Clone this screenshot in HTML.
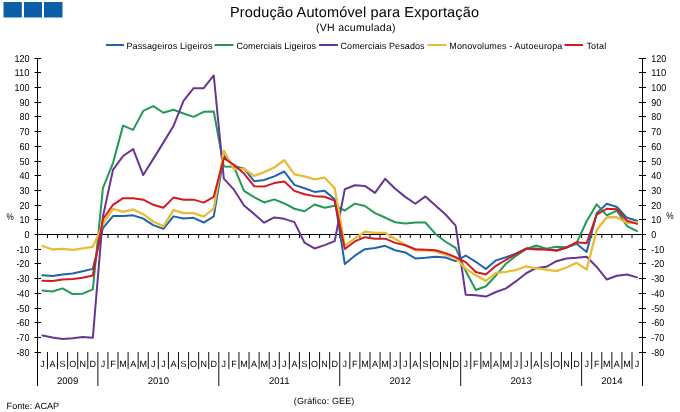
<!DOCTYPE html><html><head><meta charset="utf-8"><style>html,body{margin:0;padding:0;background:#fff;width:680px;height:412px;overflow:hidden}svg{display:block;will-change:transform}text{font-family:"Liberation Sans",sans-serif;fill:#000;text-rendering:geometricPrecision}</style></head><body>
<svg width="680" height="412" viewBox="0 0 680 412">
<rect width="680" height="412" fill="#fff"/>
<rect x="3.5" y="2" width="18.3" height="15.5" fill="#0b5fa8"/>
<rect x="24" y="2" width="18" height="15.5" fill="#0b5fa8"/>
<rect x="44" y="2" width="18.5" height="15.5" fill="#0b5fa8"/>
<text x="230" y="16.8" font-size="14.5" textLength="249" lengthAdjust="spacing">Produção Automóvel para Exportação</text>
<text x="316" y="30.8" font-size="10.5" textLength="79.5" lengthAdjust="spacing">(VH acumulada)</text>
<line x1="106" y1="45" x2="124" y2="45" stroke="#2064aa" stroke-width="2"/>
<text x="126.4" y="48.6" font-size="9" textLength="86" lengthAdjust="spacing">Passageiros Ligeiros</text>
<line x1="214.5" y1="45" x2="233.5" y2="45" stroke="#239857" stroke-width="2"/>
<text x="236.4" y="48.6" font-size="9" textLength="79.7" lengthAdjust="spacing">Comerciais Ligeiros</text>
<line x1="319" y1="45" x2="338" y2="45" stroke="#683592" stroke-width="2"/>
<text x="340.5" y="48.6" font-size="9" textLength="84.1" lengthAdjust="spacing">Comerciais Pesados</text>
<line x1="427.5" y1="45" x2="446.5" y2="45" stroke="#e8bb38" stroke-width="2"/>
<text x="449.3" y="48.6" font-size="9" textLength="113" lengthAdjust="spacing">Monovolumes - Autoeuropa</text>
<line x1="564.5" y1="45" x2="583" y2="45" stroke="#d21b21" stroke-width="2"/>
<text x="586.4" y="48.6" font-size="9" textLength="19.8" lengthAdjust="spacing">Total</text>
<line x1="37.5" y1="58.5" x2="37.5" y2="386" stroke="#000" stroke-width="1"/>
<line x1="642.5" y1="58.5" x2="642.5" y2="386" stroke="#000" stroke-width="1"/>
<line x1="34.5" y1="58.5" x2="41" y2="58.5" stroke="#000" stroke-width="1"/>
<line x1="639" y1="58.5" x2="646" y2="58.5" stroke="#000" stroke-width="1"/>
<text x="29.4" y="61.90" font-size="9.9" text-anchor="end" textLength="15.01" lengthAdjust="spacingAndGlyphs">120</text>
<text x="651.2" y="61.90" font-size="9.9" textLength="15.01" lengthAdjust="spacingAndGlyphs">120</text>
<line x1="34.5" y1="72.5" x2="41" y2="72.5" stroke="#000" stroke-width="1"/>
<line x1="639" y1="72.5" x2="646" y2="72.5" stroke="#000" stroke-width="1"/>
<text x="29.4" y="75.90" font-size="9.9" text-anchor="end" textLength="15.01" lengthAdjust="spacingAndGlyphs">110</text>
<text x="651.2" y="75.90" font-size="9.9" textLength="15.01" lengthAdjust="spacingAndGlyphs">110</text>
<line x1="34.5" y1="87.5" x2="41" y2="87.5" stroke="#000" stroke-width="1"/>
<line x1="639" y1="87.5" x2="646" y2="87.5" stroke="#000" stroke-width="1"/>
<text x="29.4" y="90.90" font-size="9.9" text-anchor="end" textLength="15.01" lengthAdjust="spacingAndGlyphs">100</text>
<text x="651.2" y="90.90" font-size="9.9" textLength="15.01" lengthAdjust="spacingAndGlyphs">100</text>
<line x1="34.5" y1="102.5" x2="41" y2="102.5" stroke="#000" stroke-width="1"/>
<line x1="639" y1="102.5" x2="646" y2="102.5" stroke="#000" stroke-width="1"/>
<text x="29.4" y="105.90" font-size="9.9" text-anchor="end" textLength="10.01" lengthAdjust="spacingAndGlyphs">90</text>
<text x="651.2" y="105.90" font-size="9.9" textLength="10.01" lengthAdjust="spacingAndGlyphs">90</text>
<line x1="34.5" y1="116.5" x2="41" y2="116.5" stroke="#000" stroke-width="1"/>
<line x1="639" y1="116.5" x2="646" y2="116.5" stroke="#000" stroke-width="1"/>
<text x="29.4" y="119.90" font-size="9.9" text-anchor="end" textLength="10.01" lengthAdjust="spacingAndGlyphs">80</text>
<text x="651.2" y="119.90" font-size="9.9" textLength="10.01" lengthAdjust="spacingAndGlyphs">80</text>
<line x1="34.5" y1="131.5" x2="41" y2="131.5" stroke="#000" stroke-width="1"/>
<line x1="639" y1="131.5" x2="646" y2="131.5" stroke="#000" stroke-width="1"/>
<text x="29.4" y="134.90" font-size="9.9" text-anchor="end" textLength="10.01" lengthAdjust="spacingAndGlyphs">70</text>
<text x="651.2" y="134.90" font-size="9.9" textLength="10.01" lengthAdjust="spacingAndGlyphs">70</text>
<line x1="34.5" y1="146.5" x2="41" y2="146.5" stroke="#000" stroke-width="1"/>
<line x1="639" y1="146.5" x2="646" y2="146.5" stroke="#000" stroke-width="1"/>
<text x="29.4" y="149.90" font-size="9.9" text-anchor="end" textLength="10.01" lengthAdjust="spacingAndGlyphs">60</text>
<text x="651.2" y="149.90" font-size="9.9" textLength="10.01" lengthAdjust="spacingAndGlyphs">60</text>
<line x1="34.5" y1="161.5" x2="41" y2="161.5" stroke="#000" stroke-width="1"/>
<line x1="639" y1="161.5" x2="646" y2="161.5" stroke="#000" stroke-width="1"/>
<text x="29.4" y="164.90" font-size="9.9" text-anchor="end" textLength="10.01" lengthAdjust="spacingAndGlyphs">50</text>
<text x="651.2" y="164.90" font-size="9.9" textLength="10.01" lengthAdjust="spacingAndGlyphs">50</text>
<line x1="34.5" y1="175.5" x2="41" y2="175.5" stroke="#000" stroke-width="1"/>
<line x1="639" y1="175.5" x2="646" y2="175.5" stroke="#000" stroke-width="1"/>
<text x="29.4" y="178.90" font-size="9.9" text-anchor="end" textLength="10.01" lengthAdjust="spacingAndGlyphs">40</text>
<text x="651.2" y="178.90" font-size="9.9" textLength="10.01" lengthAdjust="spacingAndGlyphs">40</text>
<line x1="34.5" y1="190.5" x2="41" y2="190.5" stroke="#000" stroke-width="1"/>
<line x1="639" y1="190.5" x2="646" y2="190.5" stroke="#000" stroke-width="1"/>
<text x="29.4" y="193.90" font-size="9.9" text-anchor="end" textLength="10.01" lengthAdjust="spacingAndGlyphs">30</text>
<text x="651.2" y="193.90" font-size="9.9" textLength="10.01" lengthAdjust="spacingAndGlyphs">30</text>
<line x1="34.5" y1="205.5" x2="41" y2="205.5" stroke="#000" stroke-width="1"/>
<line x1="639" y1="205.5" x2="646" y2="205.5" stroke="#000" stroke-width="1"/>
<text x="29.4" y="208.90" font-size="9.9" text-anchor="end" textLength="10.01" lengthAdjust="spacingAndGlyphs">20</text>
<text x="651.2" y="208.90" font-size="9.9" textLength="10.01" lengthAdjust="spacingAndGlyphs">20</text>
<line x1="34.5" y1="219.5" x2="41" y2="219.5" stroke="#000" stroke-width="1"/>
<line x1="639" y1="219.5" x2="646" y2="219.5" stroke="#000" stroke-width="1"/>
<text x="29.4" y="222.90" font-size="9.9" text-anchor="end" textLength="10.01" lengthAdjust="spacingAndGlyphs">10</text>
<text x="651.2" y="222.90" font-size="9.9" textLength="10.01" lengthAdjust="spacingAndGlyphs">10</text>
<line x1="34.5" y1="234.5" x2="41" y2="234.5" stroke="#000" stroke-width="1"/>
<line x1="639" y1="234.5" x2="646" y2="234.5" stroke="#000" stroke-width="1"/>
<text x="29.4" y="237.90" font-size="9.9" text-anchor="end" textLength="5.00" lengthAdjust="spacingAndGlyphs">0</text>
<text x="651.2" y="237.90" font-size="9.9" textLength="5.00" lengthAdjust="spacingAndGlyphs">0</text>
<line x1="34.5" y1="249.5" x2="41" y2="249.5" stroke="#000" stroke-width="1"/>
<line x1="639" y1="249.5" x2="646" y2="249.5" stroke="#000" stroke-width="1"/>
<text x="29.4" y="252.90" font-size="9.9" text-anchor="end" textLength="13.01" lengthAdjust="spacingAndGlyphs">-10</text>
<text x="651.2" y="252.90" font-size="9.9" textLength="13.01" lengthAdjust="spacingAndGlyphs">-10</text>
<line x1="34.5" y1="263.5" x2="41" y2="263.5" stroke="#000" stroke-width="1"/>
<line x1="639" y1="263.5" x2="646" y2="263.5" stroke="#000" stroke-width="1"/>
<text x="29.4" y="266.90" font-size="9.9" text-anchor="end" textLength="13.01" lengthAdjust="spacingAndGlyphs">-20</text>
<text x="651.2" y="266.90" font-size="9.9" textLength="13.01" lengthAdjust="spacingAndGlyphs">-20</text>
<line x1="34.5" y1="278.5" x2="41" y2="278.5" stroke="#000" stroke-width="1"/>
<line x1="639" y1="278.5" x2="646" y2="278.5" stroke="#000" stroke-width="1"/>
<text x="29.4" y="281.90" font-size="9.9" text-anchor="end" textLength="13.01" lengthAdjust="spacingAndGlyphs">-30</text>
<text x="651.2" y="281.90" font-size="9.9" textLength="13.01" lengthAdjust="spacingAndGlyphs">-30</text>
<line x1="34.5" y1="293.5" x2="41" y2="293.5" stroke="#000" stroke-width="1"/>
<line x1="639" y1="293.5" x2="646" y2="293.5" stroke="#000" stroke-width="1"/>
<text x="29.4" y="296.90" font-size="9.9" text-anchor="end" textLength="13.01" lengthAdjust="spacingAndGlyphs">-40</text>
<text x="651.2" y="296.90" font-size="9.9" textLength="13.01" lengthAdjust="spacingAndGlyphs">-40</text>
<line x1="34.5" y1="308.5" x2="41" y2="308.5" stroke="#000" stroke-width="1"/>
<line x1="639" y1="308.5" x2="646" y2="308.5" stroke="#000" stroke-width="1"/>
<text x="29.4" y="311.90" font-size="9.9" text-anchor="end" textLength="13.01" lengthAdjust="spacingAndGlyphs">-50</text>
<text x="651.2" y="311.90" font-size="9.9" textLength="13.01" lengthAdjust="spacingAndGlyphs">-50</text>
<line x1="34.5" y1="322.5" x2="41" y2="322.5" stroke="#000" stroke-width="1"/>
<line x1="639" y1="322.5" x2="646" y2="322.5" stroke="#000" stroke-width="1"/>
<text x="29.4" y="325.90" font-size="9.9" text-anchor="end" textLength="13.01" lengthAdjust="spacingAndGlyphs">-60</text>
<text x="651.2" y="325.90" font-size="9.9" textLength="13.01" lengthAdjust="spacingAndGlyphs">-60</text>
<line x1="34.5" y1="337.5" x2="41" y2="337.5" stroke="#000" stroke-width="1"/>
<line x1="639" y1="337.5" x2="646" y2="337.5" stroke="#000" stroke-width="1"/>
<text x="29.4" y="340.90" font-size="9.9" text-anchor="end" textLength="13.01" lengthAdjust="spacingAndGlyphs">-70</text>
<text x="651.2" y="340.90" font-size="9.9" textLength="13.01" lengthAdjust="spacingAndGlyphs">-70</text>
<line x1="34.5" y1="352.5" x2="41" y2="352.5" stroke="#000" stroke-width="1"/>
<line x1="639" y1="352.5" x2="646" y2="352.5" stroke="#000" stroke-width="1"/>
<text x="29.4" y="355.90" font-size="9.9" text-anchor="end" textLength="13.01" lengthAdjust="spacingAndGlyphs">-80</text>
<text x="651.2" y="355.90" font-size="9.9" textLength="13.01" lengthAdjust="spacingAndGlyphs">-80</text>
<text x="6.4" y="219.9" font-size="9.8" textLength="7.3" lengthAdjust="spacingAndGlyphs">%</text>
<text x="666.2" y="218.6" font-size="9.8" textLength="7.3" lengthAdjust="spacingAndGlyphs">%</text>
<line x1="37.5" y1="234.5" x2="642.5" y2="234.5" stroke="#000" stroke-width="1"/>
<line x1="47.48" y1="234.5" x2="47.48" y2="238" stroke="#000" stroke-width="1"/>
<line x1="57.56" y1="234.5" x2="57.56" y2="238" stroke="#000" stroke-width="1"/>
<line x1="67.63" y1="234.5" x2="67.63" y2="238" stroke="#000" stroke-width="1"/>
<line x1="77.71" y1="234.5" x2="77.71" y2="238" stroke="#000" stroke-width="1"/>
<line x1="87.79" y1="234.5" x2="87.79" y2="238" stroke="#000" stroke-width="1"/>
<line x1="97.87" y1="234.5" x2="97.87" y2="238" stroke="#000" stroke-width="1"/>
<line x1="107.95" y1="234.5" x2="107.95" y2="238" stroke="#000" stroke-width="1"/>
<line x1="118.02" y1="234.5" x2="118.02" y2="238" stroke="#000" stroke-width="1"/>
<line x1="128.10" y1="234.5" x2="128.10" y2="238" stroke="#000" stroke-width="1"/>
<line x1="138.18" y1="234.5" x2="138.18" y2="238" stroke="#000" stroke-width="1"/>
<line x1="148.26" y1="234.5" x2="148.26" y2="238" stroke="#000" stroke-width="1"/>
<line x1="158.34" y1="234.5" x2="158.34" y2="238" stroke="#000" stroke-width="1"/>
<line x1="168.41" y1="234.5" x2="168.41" y2="238" stroke="#000" stroke-width="1"/>
<line x1="178.49" y1="234.5" x2="178.49" y2="238" stroke="#000" stroke-width="1"/>
<line x1="188.57" y1="234.5" x2="188.57" y2="238" stroke="#000" stroke-width="1"/>
<line x1="198.65" y1="234.5" x2="198.65" y2="238" stroke="#000" stroke-width="1"/>
<line x1="208.73" y1="234.5" x2="208.73" y2="238" stroke="#000" stroke-width="1"/>
<line x1="218.80" y1="234.5" x2="218.80" y2="238" stroke="#000" stroke-width="1"/>
<line x1="228.88" y1="234.5" x2="228.88" y2="238" stroke="#000" stroke-width="1"/>
<line x1="238.96" y1="234.5" x2="238.96" y2="238" stroke="#000" stroke-width="1"/>
<line x1="249.04" y1="234.5" x2="249.04" y2="238" stroke="#000" stroke-width="1"/>
<line x1="259.12" y1="234.5" x2="259.12" y2="238" stroke="#000" stroke-width="1"/>
<line x1="269.19" y1="234.5" x2="269.19" y2="238" stroke="#000" stroke-width="1"/>
<line x1="279.27" y1="234.5" x2="279.27" y2="238" stroke="#000" stroke-width="1"/>
<line x1="289.35" y1="234.5" x2="289.35" y2="238" stroke="#000" stroke-width="1"/>
<line x1="299.43" y1="234.5" x2="299.43" y2="238" stroke="#000" stroke-width="1"/>
<line x1="309.51" y1="234.5" x2="309.51" y2="238" stroke="#000" stroke-width="1"/>
<line x1="319.58" y1="234.5" x2="319.58" y2="238" stroke="#000" stroke-width="1"/>
<line x1="329.66" y1="234.5" x2="329.66" y2="238" stroke="#000" stroke-width="1"/>
<line x1="339.74" y1="234.5" x2="339.74" y2="238" stroke="#000" stroke-width="1"/>
<line x1="349.82" y1="234.5" x2="349.82" y2="238" stroke="#000" stroke-width="1"/>
<line x1="359.90" y1="234.5" x2="359.90" y2="238" stroke="#000" stroke-width="1"/>
<line x1="369.97" y1="234.5" x2="369.97" y2="238" stroke="#000" stroke-width="1"/>
<line x1="380.05" y1="234.5" x2="380.05" y2="238" stroke="#000" stroke-width="1"/>
<line x1="390.13" y1="234.5" x2="390.13" y2="238" stroke="#000" stroke-width="1"/>
<line x1="400.21" y1="234.5" x2="400.21" y2="238" stroke="#000" stroke-width="1"/>
<line x1="410.29" y1="234.5" x2="410.29" y2="238" stroke="#000" stroke-width="1"/>
<line x1="420.36" y1="234.5" x2="420.36" y2="238" stroke="#000" stroke-width="1"/>
<line x1="430.44" y1="234.5" x2="430.44" y2="238" stroke="#000" stroke-width="1"/>
<line x1="440.52" y1="234.5" x2="440.52" y2="238" stroke="#000" stroke-width="1"/>
<line x1="450.60" y1="234.5" x2="450.60" y2="238" stroke="#000" stroke-width="1"/>
<line x1="460.68" y1="234.5" x2="460.68" y2="238" stroke="#000" stroke-width="1"/>
<line x1="470.75" y1="234.5" x2="470.75" y2="238" stroke="#000" stroke-width="1"/>
<line x1="480.83" y1="234.5" x2="480.83" y2="238" stroke="#000" stroke-width="1"/>
<line x1="490.91" y1="234.5" x2="490.91" y2="238" stroke="#000" stroke-width="1"/>
<line x1="500.99" y1="234.5" x2="500.99" y2="238" stroke="#000" stroke-width="1"/>
<line x1="511.07" y1="234.5" x2="511.07" y2="238" stroke="#000" stroke-width="1"/>
<line x1="521.14" y1="234.5" x2="521.14" y2="238" stroke="#000" stroke-width="1"/>
<line x1="531.22" y1="234.5" x2="531.22" y2="238" stroke="#000" stroke-width="1"/>
<line x1="541.30" y1="234.5" x2="541.30" y2="238" stroke="#000" stroke-width="1"/>
<line x1="551.38" y1="234.5" x2="551.38" y2="238" stroke="#000" stroke-width="1"/>
<line x1="561.46" y1="234.5" x2="561.46" y2="238" stroke="#000" stroke-width="1"/>
<line x1="571.53" y1="234.5" x2="571.53" y2="238" stroke="#000" stroke-width="1"/>
<line x1="581.61" y1="234.5" x2="581.61" y2="238" stroke="#000" stroke-width="1"/>
<line x1="591.69" y1="234.5" x2="591.69" y2="238" stroke="#000" stroke-width="1"/>
<line x1="601.77" y1="234.5" x2="601.77" y2="238" stroke="#000" stroke-width="1"/>
<line x1="611.85" y1="234.5" x2="611.85" y2="238" stroke="#000" stroke-width="1"/>
<line x1="621.92" y1="234.5" x2="621.92" y2="238" stroke="#000" stroke-width="1"/>
<line x1="632.00" y1="234.5" x2="632.00" y2="238" stroke="#000" stroke-width="1"/>
<line x1="47.48" y1="352.0" x2="47.48" y2="369" stroke="#111" stroke-width="1"/>
<line x1="57.56" y1="352.0" x2="57.56" y2="369" stroke="#111" stroke-width="1"/>
<line x1="67.63" y1="352.0" x2="67.63" y2="369" stroke="#111" stroke-width="1"/>
<line x1="77.71" y1="352.0" x2="77.71" y2="369" stroke="#111" stroke-width="1"/>
<line x1="87.79" y1="352.0" x2="87.79" y2="369" stroke="#111" stroke-width="1"/>
<line x1="97.87" y1="352.0" x2="97.87" y2="386" stroke="#111" stroke-width="1"/>
<line x1="107.95" y1="352.0" x2="107.95" y2="369" stroke="#111" stroke-width="1"/>
<line x1="118.02" y1="352.0" x2="118.02" y2="369" stroke="#111" stroke-width="1"/>
<line x1="128.10" y1="352.0" x2="128.10" y2="369" stroke="#111" stroke-width="1"/>
<line x1="138.18" y1="352.0" x2="138.18" y2="369" stroke="#111" stroke-width="1"/>
<line x1="148.26" y1="352.0" x2="148.26" y2="369" stroke="#111" stroke-width="1"/>
<line x1="158.34" y1="352.0" x2="158.34" y2="369" stroke="#111" stroke-width="1"/>
<line x1="168.41" y1="352.0" x2="168.41" y2="369" stroke="#111" stroke-width="1"/>
<line x1="178.49" y1="352.0" x2="178.49" y2="369" stroke="#111" stroke-width="1"/>
<line x1="188.57" y1="352.0" x2="188.57" y2="369" stroke="#111" stroke-width="1"/>
<line x1="198.65" y1="352.0" x2="198.65" y2="369" stroke="#111" stroke-width="1"/>
<line x1="208.73" y1="352.0" x2="208.73" y2="369" stroke="#111" stroke-width="1"/>
<line x1="218.80" y1="352.0" x2="218.80" y2="386" stroke="#111" stroke-width="1"/>
<line x1="228.88" y1="352.0" x2="228.88" y2="369" stroke="#111" stroke-width="1"/>
<line x1="238.96" y1="352.0" x2="238.96" y2="369" stroke="#111" stroke-width="1"/>
<line x1="249.04" y1="352.0" x2="249.04" y2="369" stroke="#111" stroke-width="1"/>
<line x1="259.12" y1="352.0" x2="259.12" y2="369" stroke="#111" stroke-width="1"/>
<line x1="269.19" y1="352.0" x2="269.19" y2="369" stroke="#111" stroke-width="1"/>
<line x1="279.27" y1="352.0" x2="279.27" y2="369" stroke="#111" stroke-width="1"/>
<line x1="289.35" y1="352.0" x2="289.35" y2="369" stroke="#111" stroke-width="1"/>
<line x1="299.43" y1="352.0" x2="299.43" y2="369" stroke="#111" stroke-width="1"/>
<line x1="309.51" y1="352.0" x2="309.51" y2="369" stroke="#111" stroke-width="1"/>
<line x1="319.58" y1="352.0" x2="319.58" y2="369" stroke="#111" stroke-width="1"/>
<line x1="329.66" y1="352.0" x2="329.66" y2="369" stroke="#111" stroke-width="1"/>
<line x1="339.74" y1="352.0" x2="339.74" y2="386" stroke="#111" stroke-width="1"/>
<line x1="349.82" y1="352.0" x2="349.82" y2="369" stroke="#111" stroke-width="1"/>
<line x1="359.90" y1="352.0" x2="359.90" y2="369" stroke="#111" stroke-width="1"/>
<line x1="369.97" y1="352.0" x2="369.97" y2="369" stroke="#111" stroke-width="1"/>
<line x1="380.05" y1="352.0" x2="380.05" y2="369" stroke="#111" stroke-width="1"/>
<line x1="390.13" y1="352.0" x2="390.13" y2="369" stroke="#111" stroke-width="1"/>
<line x1="400.21" y1="352.0" x2="400.21" y2="369" stroke="#111" stroke-width="1"/>
<line x1="410.29" y1="352.0" x2="410.29" y2="369" stroke="#111" stroke-width="1"/>
<line x1="420.36" y1="352.0" x2="420.36" y2="369" stroke="#111" stroke-width="1"/>
<line x1="430.44" y1="352.0" x2="430.44" y2="369" stroke="#111" stroke-width="1"/>
<line x1="440.52" y1="352.0" x2="440.52" y2="369" stroke="#111" stroke-width="1"/>
<line x1="450.60" y1="352.0" x2="450.60" y2="369" stroke="#111" stroke-width="1"/>
<line x1="460.68" y1="352.0" x2="460.68" y2="386" stroke="#111" stroke-width="1"/>
<line x1="470.75" y1="352.0" x2="470.75" y2="369" stroke="#111" stroke-width="1"/>
<line x1="480.83" y1="352.0" x2="480.83" y2="369" stroke="#111" stroke-width="1"/>
<line x1="490.91" y1="352.0" x2="490.91" y2="369" stroke="#111" stroke-width="1"/>
<line x1="500.99" y1="352.0" x2="500.99" y2="369" stroke="#111" stroke-width="1"/>
<line x1="511.07" y1="352.0" x2="511.07" y2="369" stroke="#111" stroke-width="1"/>
<line x1="521.14" y1="352.0" x2="521.14" y2="369" stroke="#111" stroke-width="1"/>
<line x1="531.22" y1="352.0" x2="531.22" y2="369" stroke="#111" stroke-width="1"/>
<line x1="541.30" y1="352.0" x2="541.30" y2="369" stroke="#111" stroke-width="1"/>
<line x1="551.38" y1="352.0" x2="551.38" y2="369" stroke="#111" stroke-width="1"/>
<line x1="561.46" y1="352.0" x2="561.46" y2="369" stroke="#111" stroke-width="1"/>
<line x1="571.53" y1="352.0" x2="571.53" y2="369" stroke="#111" stroke-width="1"/>
<line x1="581.61" y1="352.0" x2="581.61" y2="386" stroke="#111" stroke-width="1"/>
<line x1="591.69" y1="352.0" x2="591.69" y2="369" stroke="#111" stroke-width="1"/>
<line x1="601.77" y1="352.0" x2="601.77" y2="369" stroke="#111" stroke-width="1"/>
<line x1="611.85" y1="352.0" x2="611.85" y2="369" stroke="#111" stroke-width="1"/>
<line x1="621.92" y1="352.0" x2="621.92" y2="369" stroke="#111" stroke-width="1"/>
<line x1="632.00" y1="352.0" x2="632.00" y2="369" stroke="#111" stroke-width="1"/>
<text x="42.44" y="366.8" font-size="9" text-anchor="middle" fill="#222">J</text>
<text x="52.52" y="366.8" font-size="9" text-anchor="middle" fill="#222">A</text>
<text x="62.59" y="366.8" font-size="9" text-anchor="middle" fill="#222">S</text>
<text x="72.67" y="366.8" font-size="9" text-anchor="middle" fill="#222">O</text>
<text x="82.75" y="366.8" font-size="9" text-anchor="middle" fill="#222">N</text>
<text x="92.83" y="366.8" font-size="9" text-anchor="middle" fill="#222">D</text>
<text x="102.91" y="366.8" font-size="9" text-anchor="middle" fill="#222">J</text>
<text x="112.98" y="366.8" font-size="9" text-anchor="middle" fill="#222">F</text>
<text x="123.06" y="366.8" font-size="9" text-anchor="middle" fill="#222">M</text>
<text x="133.14" y="366.8" font-size="9" text-anchor="middle" fill="#222">A</text>
<text x="143.22" y="366.8" font-size="9" text-anchor="middle" fill="#222">M</text>
<text x="153.30" y="366.8" font-size="9" text-anchor="middle" fill="#222">J</text>
<text x="163.38" y="366.8" font-size="9" text-anchor="middle" fill="#222">J</text>
<text x="173.45" y="366.8" font-size="9" text-anchor="middle" fill="#222">A</text>
<text x="183.53" y="366.8" font-size="9" text-anchor="middle" fill="#222">S</text>
<text x="193.61" y="366.8" font-size="9" text-anchor="middle" fill="#222">O</text>
<text x="203.69" y="366.8" font-size="9" text-anchor="middle" fill="#222">N</text>
<text x="213.76" y="366.8" font-size="9" text-anchor="middle" fill="#222">D</text>
<text x="223.84" y="366.8" font-size="9" text-anchor="middle" fill="#222">J</text>
<text x="233.92" y="366.8" font-size="9" text-anchor="middle" fill="#222">F</text>
<text x="244.00" y="366.8" font-size="9" text-anchor="middle" fill="#222">M</text>
<text x="254.08" y="366.8" font-size="9" text-anchor="middle" fill="#222">A</text>
<text x="264.15" y="366.8" font-size="9" text-anchor="middle" fill="#222">M</text>
<text x="274.23" y="366.8" font-size="9" text-anchor="middle" fill="#222">J</text>
<text x="284.31" y="366.8" font-size="9" text-anchor="middle" fill="#222">J</text>
<text x="294.39" y="366.8" font-size="9" text-anchor="middle" fill="#222">A</text>
<text x="304.47" y="366.8" font-size="9" text-anchor="middle" fill="#222">S</text>
<text x="314.54" y="366.8" font-size="9" text-anchor="middle" fill="#222">O</text>
<text x="324.62" y="366.8" font-size="9" text-anchor="middle" fill="#222">N</text>
<text x="334.70" y="366.8" font-size="9" text-anchor="middle" fill="#222">D</text>
<text x="344.78" y="366.8" font-size="9" text-anchor="middle" fill="#222">J</text>
<text x="354.86" y="366.8" font-size="9" text-anchor="middle" fill="#222">F</text>
<text x="364.93" y="366.8" font-size="9" text-anchor="middle" fill="#222">M</text>
<text x="375.01" y="366.8" font-size="9" text-anchor="middle" fill="#222">A</text>
<text x="385.09" y="366.8" font-size="9" text-anchor="middle" fill="#222">M</text>
<text x="395.17" y="366.8" font-size="9" text-anchor="middle" fill="#222">J</text>
<text x="405.25" y="366.8" font-size="9" text-anchor="middle" fill="#222">J</text>
<text x="415.32" y="366.8" font-size="9" text-anchor="middle" fill="#222">A</text>
<text x="425.40" y="366.8" font-size="9" text-anchor="middle" fill="#222">S</text>
<text x="435.48" y="366.8" font-size="9" text-anchor="middle" fill="#222">O</text>
<text x="445.56" y="366.8" font-size="9" text-anchor="middle" fill="#222">N</text>
<text x="455.64" y="366.8" font-size="9" text-anchor="middle" fill="#222">D</text>
<text x="465.71" y="366.8" font-size="9" text-anchor="middle" fill="#222">J</text>
<text x="475.79" y="366.8" font-size="9" text-anchor="middle" fill="#222">F</text>
<text x="485.87" y="366.8" font-size="9" text-anchor="middle" fill="#222">M</text>
<text x="495.95" y="366.8" font-size="9" text-anchor="middle" fill="#222">A</text>
<text x="506.03" y="366.8" font-size="9" text-anchor="middle" fill="#222">M</text>
<text x="516.11" y="366.8" font-size="9" text-anchor="middle" fill="#222">J</text>
<text x="526.18" y="366.8" font-size="9" text-anchor="middle" fill="#222">J</text>
<text x="536.26" y="366.8" font-size="9" text-anchor="middle" fill="#222">A</text>
<text x="546.34" y="366.8" font-size="9" text-anchor="middle" fill="#222">S</text>
<text x="556.42" y="366.8" font-size="9" text-anchor="middle" fill="#222">O</text>
<text x="566.49" y="366.8" font-size="9" text-anchor="middle" fill="#222">N</text>
<text x="576.57" y="366.8" font-size="9" text-anchor="middle" fill="#222">D</text>
<text x="586.65" y="366.8" font-size="9" text-anchor="middle" fill="#222">J</text>
<text x="596.73" y="366.8" font-size="9" text-anchor="middle" fill="#222">F</text>
<text x="606.81" y="366.8" font-size="9" text-anchor="middle" fill="#222">M</text>
<text x="616.88" y="366.8" font-size="9" text-anchor="middle" fill="#222">A</text>
<text x="626.96" y="366.8" font-size="9" text-anchor="middle" fill="#222">M</text>
<text x="637.04" y="366.8" font-size="9" text-anchor="middle" fill="#222">J</text>
<text x="67.63" y="384" font-size="9.6" text-anchor="middle">2009</text>
<text x="158.34" y="384" font-size="9.6" text-anchor="middle">2010</text>
<text x="279.27" y="384" font-size="9.6" text-anchor="middle">2011</text>
<text x="400.21" y="384" font-size="9.6" text-anchor="middle">2012</text>
<text x="521.14" y="384" font-size="9.6" text-anchor="middle">2013</text>
<text x="611.85" y="384" font-size="9.6" text-anchor="middle">2014</text>
<text x="6.6" y="408.8" font-size="9" textLength="52.5" lengthAdjust="spacing">Fonte: ACAP</text>
<text x="293.8" y="403.8" font-size="9" textLength="60.5" lengthAdjust="spacing">(Gráfico: GEE)</text>
<polyline points="42.44,275.15 52.52,276.03 62.59,274.42 72.67,273.54 82.75,271.34 92.83,268.85 102.91,228.10 112.98,216.08 123.06,216.08 133.14,215.34 143.22,218.57 153.30,225.16 163.38,228.83 173.45,216.37 183.53,218.57 193.61,217.83 203.69,222.53 213.76,216.37 223.84,155.82 233.92,166.23 244.00,168.58 254.08,181.18 264.15,180.01 274.23,176.35 284.31,171.51 294.39,184.85 304.47,188.22 314.54,191.89 324.62,190.86 334.70,199.22 344.78,264.01 354.86,255.66 364.93,249.21 375.01,248.03 385.09,245.83 395.17,250.23 405.25,252.43 415.32,258.44 425.40,257.86 435.48,256.83 445.56,257.56 455.64,261.08 465.71,255.51 475.79,261.81 485.87,269.00 495.95,260.35 506.03,257.27 516.11,253.46 526.18,248.62 536.26,248.62 546.34,249.50 556.42,250.23 566.49,247.59 576.57,243.78 586.65,251.99 596.73,213.14 606.81,203.76 616.88,206.99 626.96,217.83 637.04,220.77" fill="none" stroke="#2064aa" stroke-width="2.0" stroke-linejoin="round" stroke-linecap="round"/>
<polyline points="42.44,290.55 52.52,291.43 62.59,288.35 72.67,294.07 82.75,293.63 92.83,289.38 102.91,188.22 112.98,163.01 123.06,125.62 133.14,129.87 143.22,110.96 153.30,106.12 163.38,112.72 173.45,109.79 183.53,113.46 193.61,116.83 203.69,111.84 213.76,111.55 223.84,166.52 233.92,166.67 244.00,190.86 254.08,197.16 264.15,202.44 274.23,199.36 284.31,203.47 294.39,208.75 304.47,211.24 314.54,204.49 324.62,207.72 334.70,205.67 344.78,210.50 354.86,203.61 364.93,205.96 375.01,213.14 385.09,217.54 395.17,222.23 405.25,223.41 415.32,222.53 425.40,222.53 435.48,233.96 445.56,241.73 455.64,247.89 465.71,271.05 475.79,289.96 485.87,286.30 495.95,275.45 506.03,263.72 516.11,255.80 526.18,249.06 536.26,245.54 546.34,248.62 556.42,246.86 566.49,247.30 576.57,243.20 586.65,221.21 596.73,204.35 606.81,215.34 616.88,210.65 626.96,226.04 637.04,231.03" fill="none" stroke="#239857" stroke-width="2.0" stroke-linejoin="round" stroke-linecap="round"/>
<polyline points="42.44,335.55 52.52,337.46 62.59,338.93 72.67,338.19 82.75,337.02 92.83,337.75 102.91,216.81 112.98,169.90 123.06,155.97 133.14,149.08 143.22,175.03 153.30,158.90 163.38,142.63 173.45,126.06 183.53,100.85 193.61,88.24 203.69,88.24 213.76,75.49 223.84,178.69 233.92,189.69 244.00,205.52 254.08,213.88 264.15,222.67 274.23,217.39 284.31,218.86 294.39,222.09 304.47,242.61 314.54,248.47 324.62,245.10 334.70,241.14 344.78,189.25 354.86,185.29 364.93,185.88 375.01,192.91 385.09,178.84 395.17,188.66 405.25,196.87 415.32,203.76 425.40,196.43 435.48,205.52 445.56,214.46 455.64,225.60 465.71,294.80 475.79,295.24 485.87,296.56 495.95,292.01 506.03,288.35 516.11,281.17 526.18,273.25 536.26,267.97 546.34,266.80 556.42,261.23 566.49,258.44 576.57,257.86 586.65,256.68 596.73,266.95 606.81,279.55 616.88,275.74 626.96,274.57 637.04,277.35" fill="none" stroke="#683592" stroke-width="2.0" stroke-linejoin="round" stroke-linecap="round"/>
<polyline points="42.44,245.98 52.52,249.50 62.59,248.91 72.67,249.94 82.75,248.33 92.83,246.86 102.91,224.14 112.98,208.75 123.06,211.82 133.14,209.48 143.22,214.17 153.30,221.50 163.38,226.34 173.45,210.06 183.53,213.14 193.61,213.14 203.69,216.66 213.76,208.45 223.84,150.69 233.92,169.16 244.00,168.72 254.08,176.05 264.15,172.09 274.23,167.55 284.31,160.22 294.39,174.44 304.47,176.35 314.54,179.28 324.62,177.67 334.70,188.22 344.78,245.69 354.86,238.36 364.93,231.76 375.01,232.79 385.09,232.79 395.17,239.09 405.25,244.81 415.32,250.23 425.40,250.23 435.48,251.41 445.56,254.63 455.64,257.86 465.71,268.85 475.79,275.30 485.87,280.87 495.95,272.96 506.03,271.78 516.11,270.02 526.18,266.36 536.26,268.26 546.34,269.58 556.42,271.05 566.49,267.53 576.57,262.84 586.65,269.58 596.73,230.00 606.81,217.25 616.88,217.25 626.96,222.97 637.04,222.23" fill="none" stroke="#e8bb38" stroke-width="2.3" stroke-linejoin="round" stroke-linecap="round"/>
<polyline points="42.44,280.73 52.52,281.02 62.59,279.55 72.67,279.11 82.75,277.79 92.83,275.45 102.91,219.30 112.98,204.79 123.06,198.19 133.14,198.19 143.22,199.66 153.30,204.79 163.38,207.72 173.45,197.60 183.53,199.66 193.61,199.66 203.69,202.59 213.76,196.87 223.84,158.17 233.92,164.76 244.00,173.56 254.08,186.17 264.15,186.61 274.23,183.09 284.31,181.48 294.39,190.86 304.47,194.23 314.54,196.14 324.62,196.72 334.70,200.68 344.78,249.06 354.86,241.44 364.93,237.19 375.01,238.65 385.09,238.65 395.17,242.90 405.25,245.25 415.32,249.21 425.40,249.65 435.48,250.23 445.56,253.16 455.64,257.12 465.71,262.11 475.79,272.08 485.87,274.42 495.95,265.77 506.03,259.76 516.11,254.19 526.18,248.62 536.26,249.50 546.34,249.50 556.42,250.67 566.49,247.74 576.57,242.17 586.65,243.20 596.73,214.61 606.81,208.75 616.88,209.18 626.96,220.77 637.04,223.84" fill="none" stroke="#d21b21" stroke-width="2.0" stroke-linejoin="round" stroke-linecap="round"/>
</svg></body></html>
